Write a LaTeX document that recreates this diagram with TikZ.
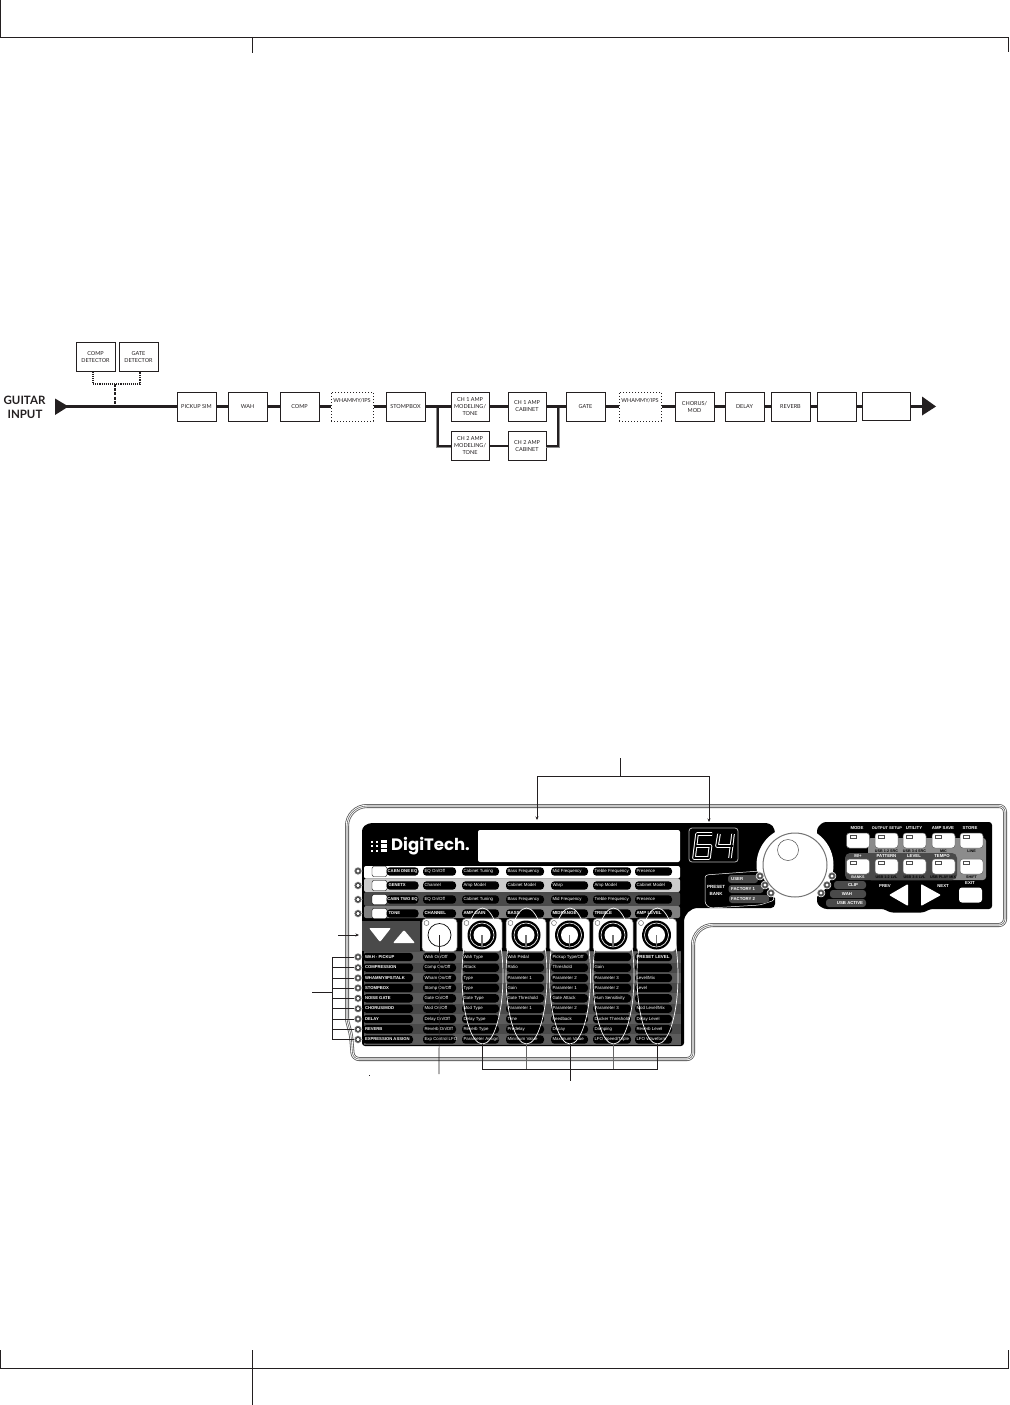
\documentclass[tikz,border=0pt]{standalone}
\usepackage{fontspec}
\setmainfont{Liberation Sans}
\newfontfamily\flowfont{Lato}
\newfontfamily\logofont{Poppins}
\usetikzlibrary{arrows.meta,calc}
\definecolor{ink}{HTML}{231F20}
\definecolor{band}{HTML}{4A4A4A}
\definecolor{bandb}{HTML}{5C5C5C}
\tikzset{
 pagemark/.style={draw=ink,line width=0.9pt},
 flowbox/.style={draw=ink,line width=1pt,fill=white,minimum height=29pt,inner sep=0pt,align=center,font=\flowfont\fontsize{5.5}{7}\selectfont,text=ink},
 dotbox/.style={flowbox,dotted,line width=1pt},
 flowline/.style={draw=ink,line width=3pt},
 thinflow/.style={draw=ink,line width=1.9pt},
 detline/.style={draw=ink,line width=1.1pt,densely dotted},
 detstem/.style={draw=ink,line width=1.6pt,dash pattern=on 3pt off 1.2pt},
 guitar/.style={font=\flowfont\bfseries\fontsize{11.5}{12}\selectfont,text=ink,inner sep=0pt},
 outline a/.style={draw=black!65,line width=4pt},
 outline b/.style={draw=white,line width=2.4pt},
 outline c/.style={draw=black!60,line width=0.6pt},
 pill/.style={fill=black,rounded corners=3.5pt,inner sep=0pt,minimum height=8.4pt,text=white,text height=3.4pt,text depth=0.9pt,font=\fontsize{4.4}{5}\selectfont},
 headpill/.style={pill,font=\bfseries\fontsize{4.2}{5}\selectfont},
 tagtext/.style={inner sep=0pt,text=white,font=\bfseries\fontsize{4.3}{5}\selectfont},
 darktag/.style={inner sep=0pt,text=black,font=\bfseries\fontsize{3.7}{5}\selectfont},
 led/.style={circle,fill=black!60,draw=white,line width=0.5pt,minimum size=8pt,inner sep=0pt},
 ledcore/.style={circle,fill=white,draw=black,line width=0.4pt,minimum size=4pt,inner sep=0pt},
 rowbtn/.style={fill=white,draw=black,line width=0.4pt,rounded corners=2pt,minimum width=15pt,minimum height=10pt,inner sep=0pt},
 keybtn/.style={fill=white,draw=black!60,line width=0.5pt,rounded corners=3pt,minimum width=23pt,minimum height=15pt,inner sep=0pt},
 callout/.style={draw=ink,line width=0.7pt},
 calltip/.style={callout,-{Stealth[length=3.5pt,width=3pt]}},
 oval/.style={draw=white,line width=0.7pt},
}
\newcommand{\cellrow}[8]{%
 \node[pill,minimum width=33pt] (#1-a) at (439.5,#2) {\makebox[33pt][l]{\hspace{1.5pt}#3}};
 \node[pill,minimum width=37pt] (#1-b) at (480.5,#2) {\makebox[37pt][l]{\hspace{1.5pt}#4}};
 \node[pill,minimum width=38pt] (#1-c) at (525,#2) {\makebox[38pt][l]{\hspace{1.5pt}#5}};
 \node[pill,minimum width=37pt] (#1-d) at (569.5,#2) {\makebox[37pt][l]{\hspace{1.5pt}#6}};
 \node[pill,minimum width=38pt] (#1-e) at (612,#2) {\makebox[38pt][l]{\hspace{1.5pt}#7}};
 \node[pill,minimum width=37pt] (#1-f) at (653.5,#2) {\makebox[37pt][l]{\hspace{1.5pt}#8}};
}
\newcommand{\ledat}[3]{\node[led] (#1) at (#2,#3) {}; \node[ledcore] (#1-c) at (#2,#3) {};}
\newcommand{\knobat}[3]{%
 \node[fill=white,draw=black!50,line width=0.5pt,rounded corners=4pt,minimum width=40pt,minimum height=33pt,inner sep=0pt] (#1-pad) at (#2,#3) {};
 \node[circle,draw=black!70,line width=0.4pt,minimum size=5pt,inner sep=0pt] (#1-lamp) at ($(#2,#3)+(-15.5,-12)$) {};
 \node[circle,fill=black,minimum size=29pt,inner sep=0pt] (#1-o) at (#2,#3) {};
 \node[circle,draw=white,line width=0.6pt,minimum size=24pt,inner sep=0pt] (#1-r) at (#2,#3) {};
 \node[circle,fill=white,minimum size=17pt,inner sep=0pt] (#1-i) at (#2,#3) {};
 \draw[black!55,line width=1.6pt] (#1-i.center) -- (#1-r.south);
}
\newcommand{\keyat}[3]{%
 \node[keybtn] (#1) at (#2,#3) {};
 \draw[black!70,line width=0.4pt,fill=white] ($(#2,#3)+(-8,-5.5)$) rectangle ($(#2,#3)+(-2,-2)$);
}
\begin{document}
\begin{tikzpicture}[x=1pt,y=-1pt]
\useasboundingbox (0,0) rectangle (1009,1405);
% page marks
\coordinate (tl) at (0.7,0); \coordinate (tc) at (0.7,37); \coordinate (tr) at (1008.3,37);
\draw[pagemark] (tl) -- (tc) -- (tr) -- (1008.3,52);
\draw[pagemark] (252.5,37) -- (252.5,53);
\draw[pagemark] (0.7,1350) -- (0.7,1368) -- (1008.3,1368) -- (1008.3,1350);
\draw[pagemark] (252.5,1350) -- (252.5,1405);
% ---------- signal flow
\node[guitar] (gtext) at (24.5,400.5) {GUITAR};
\node[guitar] (itext) at (25,414) {INPUT};
\coordinate (input) at (66,406.5);
\coordinate (output) at (923,406.5);
\node[flowbox,minimum width=39pt] (compdet) at (95.5,357) {COMP\\DETECTOR};
\node[flowbox,minimum width=39pt] (gatedet) at (138.5,357) {GATE\\DETECTOR};
\node[flowbox,minimum width=39pt] (pick) at (196.5,406.5) {PICKUP SIM};
\node[flowbox,minimum width=39pt] (wah) at (247.5,406.5) {WAH};
\node[flowbox,minimum width=39pt] (comp) at (299.5,406.5) {COMP};
\node[dotbox,minimum width=42pt,label={[inner sep=0pt,font=\flowfont\fontsize{5.5}{7}\selectfont,text=ink,yshift=6pt]center:WHAMMY/IPS}] (wh1) at (352,406.5) {};
\node[flowbox,minimum width=39pt] (stomp) at (405.5,406.5) {STOMPBOX};
\node[flowbox,minimum width=38pt] (amp1) at (470,406.5) {CH 1 AMP\\MODELING/\\TONE};
\node[flowbox,minimum width=38pt] (amp2) at (470,446) {CH 2 AMP\\MODELING/\\TONE};
\node[flowbox,minimum width=38pt] (cab1) at (527,406.5) {CH 1 AMP\\CABINET};
\node[flowbox,minimum width=38pt] (cab2) at (527,446) {CH 2 AMP\\CABINET};
\node[flowbox,minimum width=39pt] (gate) at (585.5,406.5) {GATE};
\node[dotbox,minimum width=42pt,label={[inner sep=0pt,font=\flowfont\fontsize{5.5}{7}\selectfont,text=ink,yshift=6pt]center:WHAMMY/IPS}] (wh2) at (640,406.5) {};
\node[flowbox,minimum width=39pt] (chorus) at (694.5,406.5) {CHORUS/\\MOD};
\node[flowbox,minimum width=39pt] (delay) at (744.5,406.5) {DELAY};
\node[flowbox,minimum width=39pt] (reverb) at (790.5,406.5) {REVERB};
\node[flowbox,minimum width=39pt] (blank1) at (836.5,406.5) {};
\node[flowbox,minimum width=48pt,minimum height=28pt] (blank2) at (886.5,406.5) {};
\coordinate (tap) at (115,406.5);
\coordinate (split) at (438,406.5);
\coordinate (merge) at (558,406.5);
\coordinate (det) at (115,384);
\draw[black!45,line width=1pt] (436.7,406) -- (436.7,447.3) -- (451,447.3);
\draw[black!45,line width=0.8pt] (546,447.5) -- (559.5,447.5) -- (559.5,408);
\draw[flowline] (input) -- (pick.west);
\draw[flowline] (pick.east) -- (wah.west);
\draw[flowline] (wah.east) -- (comp.west);
\draw[flowline] (comp.east) -- (wh1.west);
\draw[flowline] (wh1.east) -- (stomp.west);
\draw[flowline] (stomp.east) -- (split) -- (amp1.west);
\draw[thinflow] (split) -- (438,446) -- (amp2.west);
\draw[flowline] (amp1.east) -- (cab1.west);
\draw[thinflow] (amp2.east) -- (cab2.west);
\draw[flowline] (cab1.east) -- (gate.west);
\draw[thinflow] (cab2.east) -- (558,446) -- (merge);
\draw[flowline] (gate.east) -- (wh2.west);
\draw[flowline] (wh2.east) -- (chorus.west);
\draw[flowline] (chorus.east) -- (delay.west);
\draw[flowline] (delay.east) -- (reverb.west);
\draw[flowline] (reverb.east) -- (blank1.west);
\draw[flowline] (blank1.east) -- (blank2.west);
\draw[flowline] (blank2.east) -- (output);
\fill[ink] (55,398.5) -- (68.5,406.5) -- (55,415) -- cycle;
\fill[ink] (922,396.5) -- (936,406.5) -- (922,415.5) -- cycle;
\draw[detline] (93,371.5) -- (93,384) -- (140,384) -- (140,371.5);
\draw[detstem] (det) -- (tap);
% ---------- device outline
\foreach \st in {outline a,outline b,outline c}{
 \draw[\st] [rounded corners=20pt] (347,900) -- (347,806) [rounded corners=6pt] -- (1005,806) -- (1005,925) [rounded corners=20pt] -- (693,925) [rounded corners=6pt] -- (693,1059) -- (353,1059) [rounded corners=2pt] -- (351,1035) -- (347,1020) -- cycle;
}
% black body
\fill[black] [rounded corners=4pt] (362,828) -- (368,823) -- (770,823) -- (775,829) -- (775,908) [rounded corners=14pt] -- (684,908) [rounded corners=3pt] -- (684,1046) -- (362,1046) -- cycle;
\fill[black] [rounded corners=3pt] (823,822) -- (992,822) -- (992,909) -- (930,909) -- (924,912.5) -- (890,912.5) -- (884,909) -- (824,909) -- (817,904) -- (817,828) -- cycle;
% knob recess
\node[circle,fill=white,minimum size=77pt,inner sep=0pt] (recess) at (795,865) {};
% display
\node[fill=white,rounded corners=2pt,minimum width=202pt,minimum height=32pt,inner sep=0pt] (lcd) at (579,846) {};
% logo
\foreach \i in {0,1,2}{
 \fill[white] (371,{840.5+\i*4.5}) rectangle (373,{842.5+\i*4.5});
 \fill[white] (375.5,{840.5+\i*4.5}) rectangle (378,{842.5+\i*4.5});
 \fill[white] (381,{839.7+\i*4.5}) rectangle (386.5,{843+\i*4.5});
}
\node[inner sep=0pt,text=white,anchor=west,font=\logofont\bfseries\fontsize{16.5}{18}\selectfont] (logo) at (391,846.5) {DigiTech.};
% 64 readout
\node[draw=black!30,line width=0.8pt,fill=black,rounded corners=3pt,minimum width=49pt,minimum height=34pt,inner sep=0pt] (readout) at (713.5,845) {};
\foreach \lw/\c in {3.6pt/white,1.6pt/black}{
 \draw[\c,line width=\lw,line join=round] (712,834) -- (697,834) -- (694,858) -- (709,858) -- (710.5,846) -- (696,846);
 \draw[\c,line width=\lw,line join=round] (719,834) -- (717,846) -- (733,846);
 \draw[\c,line width=\lw,line join=round] (733,834) -- (730,858);
}
% rows behind pills
\fill[white,rounded corners=2pt] (364,866) rectangle (680,878.5);
\fill[black!20,rounded corners=2pt] (364,878.5) rectangle (680,892);
\fill[band,rounded corners=2pt] (364,892) rectangle (680,906);
\fill[black!50,rounded corners=2pt] (364,906) rectangle (680,918);
\fill[band] (364,951) rectangle (681,1045);
\foreach \y/\c in {952/bandb,972.5/bandb,993/bandb,1013.5/bandb,1034/bandb}{
 \fill[\c] (364,\y) rectangle (681,\y+10.5);
}
% top rows
\node[rowbtn] (b1) at (379.5,871.5) {};
\node[rowbtn] (b2) at (379.5,885.5) {};
\node[rowbtn] (b3) at (379.5,899.5) {};
\node[rowbtn] (b4) at (379.5,913.5) {};
\node[headpill,minimum width=32pt] (l1) at (402.5,871.5) {CABN ONE EQ};
\node[headpill,minimum width=32pt] (l2) at (402.5,885.5) {\makebox[32pt][l]{\hspace{2pt}GENETX}};
\node[headpill,minimum width=32pt] (l3) at (402.5,899.5) {CABN TWO EQ};
\node[headpill,minimum width=32pt] (l4) at (402.5,913.5) {\makebox[32pt][l]{\hspace{2pt}TONE}};
\cellrow{ra}{871.5}{EQ On/Off}{Cabinet Tuning}{Bass Frequency}{Mid Frequency}{Treble Frequency}{Presence}
\cellrow{rb}{885.5}{Channel}{Amp Model}{Cabinet Model}{Warp}{Amp Model}{Cabinet Model}
\cellrow{rc}{899.5}{EQ On/Off}{Cabinet Tuning}{Bass Frequency}{Mid Frequency}{Treble Frequency}{Presence}
\cellrow{rd}{913.5}{\textbf{CHANNEL}}{\textbf{AMP GAIN}}{\textbf{BASS}}{\textbf{MIDRANGE}}{\textbf{TREBLE}}{\textbf{AMP LEVEL}}
% row LEDs
\ledat{t1}{358}{871}\ledat{t2}{358}{885.5}\ledat{t3}{358}{899.5}\ledat{t4}{358}{913.5}
% arrow pad
\fill[band] (362,921) rectangle (420,951);
\fill[white,rounded corners=1pt] (369,928) -- (391,928) -- (380,942) -- cycle;
\fill[white,rounded corners=1pt] (393,943) -- (415,943) -- (404,930) -- cycle;
% channel pad and knobs
\node[fill=white,draw=black!50,line width=0.5pt,rounded corners=4pt,minimum width=35pt,minimum height=33pt,inner sep=0pt] (chpad) at (439.5,935) {};
\node[circle,draw=black,line width=0.7pt,minimum size=23pt,inner sep=0pt] (chknob) at (439.5,935) {};
\node[circle,draw=black!70,line width=0.4pt,minimum size=5pt,inner sep=0pt] (chlamp) at (426.5,923) {};
\knobat{ka}{482}{935}\knobat{kb}{526}{935}\knobat{kc}{569.5}{935}\knobat{kd}{613}{935}\knobat{ke}{656.5}{935}
% lower rows
\node[headpill,minimum width=50pt] (m1) at (388,957) {\makebox[50pt][l]{\hspace{2pt}WAH - PICKUP}};
\node[headpill,minimum width=50pt] (m2) at (388,967.7) {\makebox[50pt][l]{\hspace{2pt}COMPRESSION}};
\node[headpill,minimum width=50pt] (m3) at (388,978) {\makebox[50pt][l]{\hspace{2pt}WHAMMY/IPS/TALK}};
\node[headpill,minimum width=50pt] (m4) at (388,988) {\makebox[50pt][l]{\hspace{2pt}STOMPBOX}};
\node[headpill,minimum width=50pt] (m5) at (388,998.3) {\makebox[50pt][l]{\hspace{2pt}NOISE GATE}};
\node[headpill,minimum width=50pt] (m6) at (388,1008.7) {\makebox[50pt][l]{\hspace{2pt}CHORUS/MOD}};
\node[headpill,minimum width=50pt] (m7) at (388,1019) {\makebox[50pt][l]{\hspace{2pt}DELAY}};
\node[headpill,minimum width=50pt] (m8) at (388,1029.3) {\makebox[50pt][l]{\hspace{2pt}REVERB}};
\node[headpill,minimum width=50pt] (m9) at (388,1039.5) {\makebox[50pt][l]{\hspace{2pt}EXPRESSION ASSIGN}};
\cellrow{c1}{957}{Wah On/Off}{Wah Type}{Wah Pedal}{Pickup Type/Off}{}{\textbf{PRESET LEVEL}}
\cellrow{c2}{967.7}{Comp On/Off}{Attack}{Ratio}{Threshold}{Gain}{}
\cellrow{c3}{978}{Wham On/Off}{Type}{Parameter 1}{Parameter 2}{Parameter 3}{Level/Mix}
\cellrow{c4}{988}{Stomp On/Off}{Type}{Gain}{Parameter 1}{Parameter 2}{Level}
\cellrow{c5}{998.3}{Gate On/Off}{Gate Type}{Gate Threshold}{Gate Attack}{Hum Sensitivity}{}
\cellrow{c6}{1008.7}{Mod On/Off}{Mod Type}{Parameter 1}{Parameter 2}{Parameter 3}{Mod Level/Mix}
\cellrow{c7}{1019}{Delay On/Off}{Delay Type}{Time}{Feedback}{Ducker Threshold}{Delay Level}
\cellrow{c8}{1029.3}{Reverb On/Off}{Reverb Type}{Predelay}{Decay}{Damping}{Reverb Level}
\cellrow{c9}{1039.5}{Exp Control LFO}{Parameter Assign}{Minimum Value}{Maximum Value}{LFO Speed/Triple}{LFO Waveform}
\ledat{e1}{358}{957}\ledat{e2}{358}{967.7}\ledat{e3}{358}{978}\ledat{e4}{358}{988}\ledat{e5}{358}{998.3}\ledat{e6}{358}{1008.7}\ledat{e7}{358}{1019}\ledat{e8}{358}{1029.3}\ledat{e9}{358}{1039.5}
% white ovals
\foreach \x in {482.5,526.5,570,613.5,657.5}{
 \draw[oval] (\x,976) ellipse [x radius=20.5,y radius=68];
}
\coordinate (oa) at (482.5,1044);
\coordinate (ob) at (526.5,1044);
\coordinate (oc) at (570,1044);
\coordinate (od) at (613.5,1044);
\coordinate (oe) at (657.5,1044);
% preset bank
\draw[white,line width=0.5pt,fill=black,rounded corners=3pt] (705,875) -- (760,871) -- (775,900) -- (760,905) -- (710,908) -- (705,904) -- cycle;
\node[inner sep=0pt,align=center,text=white,font=\bfseries\fontsize{4.5}{6.5}\selectfont] (bank) at (716,890.5) {PRESET\\BANK};
\node[fill=band,rounded corners=3pt,minimum width=30pt,minimum height=8pt,inner sep=0pt] (p1) at (743,879) {};
\node[fill=band,rounded corners=3pt,minimum width=35pt,minimum height=8pt,inner sep=0pt] (p2) at (746,889) {};
\node[fill=band,rounded corners=3pt,minimum width=40pt,minimum height=8pt,inner sep=0pt] (p3) at (749,899) {};
\node[tagtext,anchor=west] (p1t) at (731,879) {USER};
\node[tagtext,anchor=west] (p2t) at (731,889) {FACTORY 1};
\node[tagtext,anchor=west] (p3t) at (731,899) {FACTORY 2};
\ledat{pa}{760}{876}\ledat{pb}{765}{885}\ledat{pc}{771}{893}
% knob
\node[circle,draw=black!55,line width=1pt,fill=white,minimum size=64pt,inner sep=0pt] (dial) at (795,865) {};
\node[circle,draw=black!70,line width=0.5pt,minimum size=21pt,inner sep=0pt] (dialdot) at (788,850) {};
% meter tags
\node[fill=band,rounded corners=3pt,minimum width=32pt,minimum height=8pt,inner sep=0pt] (q1) at (850,885) {};
\node[fill=band,rounded corners=3pt,minimum width=36pt,minimum height=8pt,inner sep=0pt] (q2) at (848,894) {};
\node[fill=band,rounded corners=3pt,minimum width=40pt,minimum height=8pt,inner sep=0pt] (q3) at (846,903) {};
\node[tagtext] (q1t) at (853,885) {CLIP};
\node[tagtext] (q2t) at (847,894) {WAH};
\node[tagtext] (q3t) at (850,903) {USB ACTIVE};
\ledat{qa}{832}{876}\ledat{qb}{827}{885}\ledat{qc}{821}{893}
% key panel
\fill[black!45,rounded corners=3pt] (868,838) rectangle (986,880);
\fill[band,rounded corners=5pt] (845,853) rectangle (957,880);
\keyat{k1}{858}{840.5}\keyat{k2}{886.5}{840.5}\keyat{k3}{914.5}{840.5}\keyat{k4}{943.5}{840.5}\keyat{k5}{971.5}{840.5}
\keyat{k6}{858}{866.5}\keyat{k7}{886.5}{866.5}\keyat{k8}{914.5}{866.5}\keyat{k9}{943.5}{866.5}\keyat{k10}{971.5}{866.5}
\node[tagtext] (a1) at (857,828) {MODE};
\node[tagtext,font=\bfseries\fontsize{3.9}{5}\selectfont] (a2) at (887,828) {OUTPUT SETUP};
\node[tagtext] (a3) at (914,828) {UTILITY};
\node[tagtext] (a4) at (943,828) {AMP SAVE};
\node[tagtext] (a5) at (970,828) {STORE};
\node[darktag] (d2) at (886.5,850.8) {USB 1-2 SRC};
\node[darktag] (d3) at (914.5,850.8) {USB 3-4 SRC};
\node[darktag] (d4) at (943.5,850.8) {MIC};
\node[darktag] (d5) at (971.5,850.8) {LINE};
\node[tagtext] (h6) at (858,856) {M/+};
\node[tagtext] (h7) at (886.5,856) {PATTERN};
\node[tagtext] (h8) at (914,856) {LEVEL};
\node[tagtext] (h9) at (942,856) {TEMPO};
\node[darktag,text=white] (f6) at (858,877) {BANKS};
\node[darktag] (f7) at (886.5,877) {USB 1-2 LVL};
\node[darktag] (f8) at (914.5,877) {USB 3-4 LVL};
\node[darktag] (f9) at (943,877) {USB PLAY MIX};
\node[darktag] (f10) at (971.5,877) {SHIFT};
\node[tagtext] (prev) at (885,886.5) {PREV};
\node[tagtext] (next) at (943,886.5) {NEXT};
\node[tagtext] (exit) at (970,883) {EXIT};
\node[fill=white,rounded corners=3pt,minimum width=23pt,minimum height=15pt,inner sep=0pt] (xbtn) at (970.5,895) {};
\fill[white,rounded corners=1pt] (908,884) -- (908,906) -- (889,895) -- cycle;
\fill[white,rounded corners=1pt] (921,884) -- (921,906) -- (941,895) -- cycle;
% ---------- callouts
\coordinate (top) at (620,758);
\coordinate (tee) at (620,776);
\coordinate (lcdmark) at (537,820);
\coordinate (readmark) at (709,822);
\draw[callout] (top) -- (tee);
\draw[calltip] (tee) -- (537,776) -- (lcdmark);
\draw[calltip] (tee) -- (709,776) -- (readmark);
\coordinate (padfrom) at (338,935);
\coordinate (padto) at (359,935);
\draw[calltip] (padfrom) -- (padto);
\coordinate (brk) at (312,992);
\coordinate (brkv) at (332,992);
\draw[callout] (brk) -- (brkv);
\draw[callout] (332,957) -- (332,1039.5);
\foreach \n in {e1,e2,e3,e4,e5,e6,e7,e8,e9}{
 \draw[callout] (\n.west -| brkv) -- (\n.west);
}
\coordinate (chfoot) at (439,1074);
\draw[callout] (chfoot) -- (chknob.center);
\fill[ink] (368.6,1074.5) rectangle (369.6,1076);
\coordinate (stem) at (570,1081);
\coordinate (bar) at (570,1069);
\draw[callout] (oa) -- (oa |- bar) -- (oe |- bar) -- (oe);
\draw[callout,black!60] (ob) -- (ob |- bar);
\draw[callout] (oc) -- (stem);
\draw[callout,black!60] (od) -- (od |- bar);
\end{tikzpicture}
\end{document}
